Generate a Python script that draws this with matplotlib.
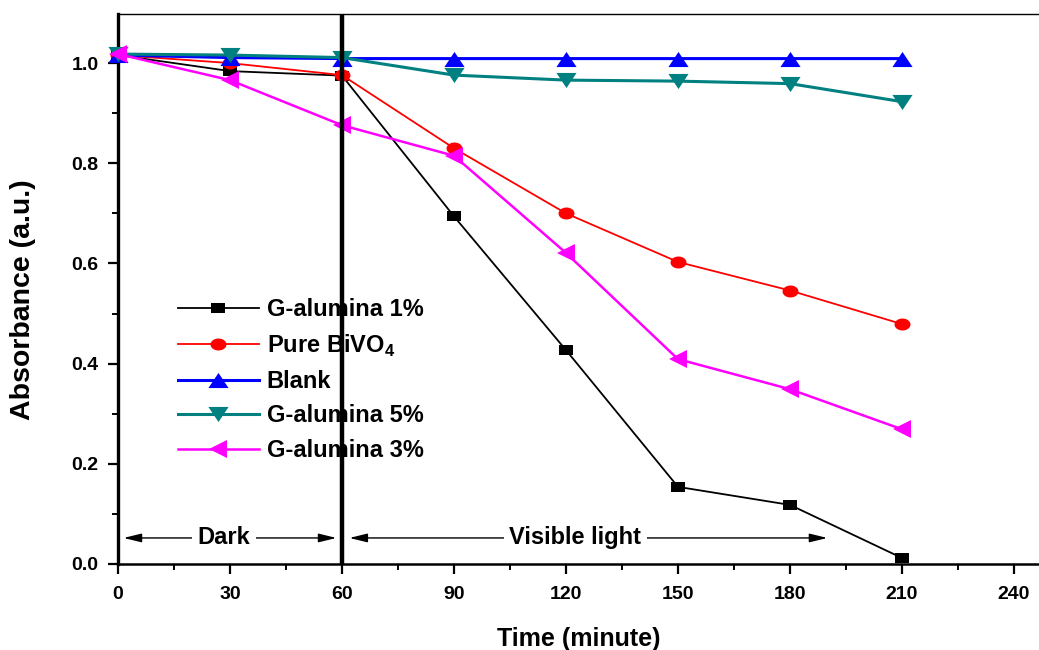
import numpy as np
import matplotlib
matplotlib.use("Agg")
import matplotlib.pyplot as plt
from matplotlib.ticker import MultipleLocator, FormatStrFormatter

# Irradiation time (min); 0-60 dark adsorption, 60-210 visible light
time_min = [0, 30, 60, 90, 120, 150, 180, 210]

g_alumina_1 = [1.016, 0.984, 0.975, 0.694, 0.427, 0.154, 0.118, 0.012]
pure_bivo4 = [1.016, 1.000, 0.976, 0.830, 0.700, 0.603, 0.546, 0.479]
blank = [1.016, 1.011, 1.009, 1.009, 1.009, 1.009, 1.009, 1.009]
g_alumina_5 = [1.018, 1.016, 1.011, 0.976, 0.966, 0.964, 0.959, 0.923]
g_alumina_3 = [1.018, 0.966, 0.876, 0.815, 0.621, 0.409, 0.349, 0.269]

series_labels = ["G-alumina 1%", r"Pure BiVO$_\mathbf{4}$", "Blank",
                 "G-alumina 5%", "G-alumina 3%"]
x_ticks = [0, 30, 60, 90, 120, 150, 180, 210, 240]

plt.rcParams["font.family"] = ["Liberation Sans", "DejaVu Sans"]
plt.rcParams["mathtext.fontset"] = "custom"
plt.rcParams["mathtext.bf"] = "Liberation Sans:bold"
plt.rcParams["mathtext.rm"] = "Liberation Sans"

# Slightly wide marker shapes
flat = 0.75
sq_marker = [(-1, -flat), (1, -flat), (1, flat), (-1, flat), (-1, -flat)]
_t = np.linspace(0, 2 * np.pi, 41)
oval_marker = list(zip(np.cos(_t), flat * np.sin(_t)))
up_marker = [(0, flat), (-1, -flat), (1, -flat), (0, flat)]
down_marker = [(0, -flat), (-1, flat), (1, flat), (0, -flat)]

fig = plt.figure(figsize=(10.39, 6.5), dpi=100)
ax = fig.add_axes([118 / 1039, 86 / 650, 1 - 118 / 1039, (564 - 14) / 650])

styles = [
    dict(color="black", marker=sq_marker, ms=10.5, lw=1.3),
    dict(color="#ff0000", marker=oval_marker, ms=11.5, lw=1.3),
    dict(color="#0000ff", marker=up_marker, ms=14.5, lw=2.2),
    dict(color="#008080", marker=down_marker, ms=14.5, lw=2.2),
    dict(color="#ff00ff", marker="<", ms=13, lw=1.8),
]
for ys, lab, st in zip([g_alumina_1, pure_bivo4, blank, g_alumina_5, g_alumina_3],
                       series_labels, styles):
    ax.plot(time_min, ys, label=lab, color=st["color"], marker=st["marker"],
            markersize=st["ms"], linewidth=st["lw"], markeredgewidth=0,
            clip_on=False, zorder=3)

# Boundary between dark and light periods
ax.axvline(60, color="black", lw=3.2, zorder=4)

ax.set_xlim(0, 246.7)
ax.set_ylim(0, 1.098)
ax.xaxis.set_major_locator(MultipleLocator(30))
ax.xaxis.set_minor_locator(MultipleLocator(15))
ax.yaxis.set_major_locator(MultipleLocator(0.2))
ax.yaxis.set_minor_locator(MultipleLocator(0.1))
ax.yaxis.set_major_formatter(FormatStrFormatter("%.1f"))
ax.set_xticks(x_ticks)

ax.spines["right"].set_visible(False)
ax.spines["left"].set_linewidth(2.4)
ax.spines["bottom"].set_linewidth(1.8)
ax.spines["top"].set_linewidth(1.0)
ax.tick_params(which="major", direction="out", length=7, width=1.6)
ax.tick_params(which="minor", direction="out", length=4, width=1.4)
ax.tick_params(axis="x", which="major", pad=9)
ax.tick_params(axis="y", which="major", pad=7)
for lab in ax.get_yticklabels() + ax.get_xticklabels():
    lab.set_fontweight("bold")
    lab.set_fontsize(14)

ax.set_xlabel("Time (minute)", fontsize=18, fontweight="bold", labelpad=17)
ax.set_ylabel("Absorbance (a.u.)", fontsize=20.5, fontweight="bold")
ax.yaxis.set_label_coords(-82 / 921, 0.48)

leg = ax.legend(loc="upper left", bbox_to_anchor=(157 / 1039, 1 - 277 / 650),
                bbox_transform=fig.transFigure, frameon=False, numpoints=1,
                handlelength=3.4, handletextpad=0.35, labelspacing=0.48,
                prop=dict(size=17, weight="bold"))

# Period annotations near the bottom of the plot
arrow_kw = dict(arrowstyle="<|-|>,head_length=0.9,head_width=0.22",
                color="black", lw=1.0, mutation_scale=12, shrinkA=0, shrinkB=0)
ax.annotate("", xy=(1.5, 0.052), xytext=(58.5, 0.052), arrowprops=arrow_kw, zorder=2)
ax.annotate("", xy=(62, 0.052), xytext=(190, 0.052), arrowprops=arrow_kw, zorder=2)
bb = dict(facecolor="white", edgecolor="none", pad=4)
ax.text(28.4, 0.052, "Dark", ha="center", va="center", fontsize=17,
        fontweight="bold", bbox=bb, zorder=5)
ax.text(122.5, 0.052, "Visible light", ha="center", va="center", fontsize=17,
        fontweight="bold", bbox=bb, zorder=5)

fig.savefig("out.png", dpi=100)
